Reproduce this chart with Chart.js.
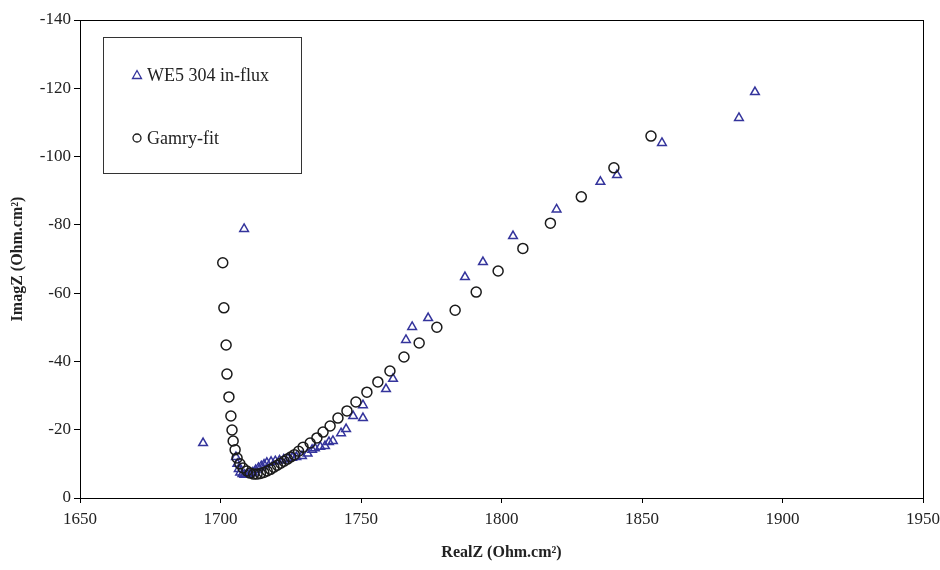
<!DOCTYPE html>
<html>
<head>
<meta charset="utf-8">
<script src="https://cdn.jsdelivr.net/npm/chart.js@4/dist/chart.umd.min.js"></script>
<style>
  html, body { margin: 0; padding: 0; background: #fff; }
  #wrap { width: 940px; height: 570px; position: relative; }
</style>
</head>
<body>
<div id="wrap"><canvas id="nyquist"></canvas></div>
<script>
// measured data (WE5 304 in-flux)
const realMeas = [1693.8, 1708.4, 1705.5, 1706.0, 1706.5, 1707.0, 1707.8, 1708.5, 1709.5, 1710.5,
  1711.5, 1712.5, 1713.5, 1714.5, 1715.5, 1716.5, 1718.0, 1719.5, 1721.0, 1722.5,
  1724.0, 1725.5, 1727.0, 1729.0, 1731.0, 1732.6, 1733.6, 1735.5, 1737.2, 1738.6,
  1740.0, 1742.9, 1744.7, 1747.2, 1750.7, 1750.7, 1758.9, 1761.4, 1766.0, 1768.2,
  1773.9, 1787.0, 1793.4, 1804.1, 1819.6, 1835.2, 1841.1, 1857.1, 1884.5, 1890.2];
const imagMeas = [-16.1, -78.8, -12.0, -10.0, -8.5, -7.5, -7.0, -6.8, -7.0, -7.2,
  -7.5, -8.2, -8.8, -9.3, -9.8, -10.3, -10.6, -10.8, -11.0, -11.3,
  -11.5, -11.8, -12.0, -12.3, -13.0, -14.1, -14.6, -15.0, -15.2, -16.4,
  -16.7, -19.0, -20.2, -24.0, -23.4, -27.2, -31.9, -34.9, -46.3, -50.1,
  -52.7, -64.7, -69.1, -76.7, -84.5, -92.6, -94.6, -104.0, -111.3, -118.9];

// fitted data (Gamry-fit)
const realFit = [1700.8, 1701.2, 1702.0, 1702.3, 1703.0, 1703.7, 1704.1, 1704.5, 1705.2, 1705.9,
  1706.9, 1708.0, 1709.4, 1710.5, 1711.8, 1713.0, 1714.2, 1715.4, 1716.6, 1717.8,
  1719.0, 1720.2, 1721.4, 1722.6, 1723.8, 1725.0, 1726.3, 1727.8, 1729.4, 1731.9,
  1734.3, 1736.5, 1739.0, 1741.8, 1745.0, 1748.2, 1752.1, 1756.0, 1760.3, 1765.3,
  1770.7, 1777.0, 1783.5, 1791.0, 1798.8, 1807.6, 1817.4, 1828.4, 1840.0, 1853.2];
const imagFit = [-68.9, -55.7, -44.8, -36.3, -29.6, -24.0, -19.9, -16.7, -14.1, -11.7,
  -10.0, -8.8, -7.9, -7.3, -7.0, -7.0, -7.2, -7.5, -7.9, -8.4,
  -9.0, -9.6, -10.2, -10.8, -11.4, -12.0, -12.7, -13.7, -14.9, -16.1,
  -17.6, -19.3, -21.1, -23.4, -25.5, -28.1, -31.0, -34.0, -37.2, -41.3,
  -45.4, -50.0, -55.0, -60.3, -66.5, -73.1, -80.5, -88.2, -96.7, -106.0];

const seriesNames = ["WE5 304 in-flux", "Gamry-fit"];

const toPoints = (xs, ys) => xs.map((x, i) => ({ x, y: ys[i] }));

const colors = {
  meas: "#34349c",
  fit: "#1a1a1a",
  axis: "#000",
  text: "#222",
};
const serif = "'Liberation Serif', 'Times New Roman', serif";

// frame around the plot area + boxed legend
const framePlugin = {
  id: "frame",
  afterDatasetsDraw(chart) {
    const { ctx, chartArea: a } = chart;
    ctx.save();
    ctx.strokeStyle = colors.axis;
    ctx.lineWidth = 1;
    ctx.strokeRect(a.left + 0.5, a.top + 0.5, a.right - a.left, a.bottom - a.top);

    // legend box
    ctx.strokeStyle = "#333";
    ctx.strokeRect(103.5, 37.5, 198, 136);
    ctx.font = "18px " + serif;
    ctx.textBaseline = "middle";
    const rows = [
      { y: 75, style: "triangle", color: colors.meas },
      { y: 138, style: "circle", color: colors.fit },
    ];
    rows.forEach((r, i) => {
      ctx.strokeStyle = r.color;
      ctx.lineWidth = 1.3;
      ctx.beginPath();
      if (r.style === "circle") {
        ctx.arc(137, r.y, 4, 0, Math.PI * 2);
      } else {
        ctx.moveTo(137, r.y - 4.5);
        ctx.lineTo(141.5, r.y + 3.5);
        ctx.lineTo(132.5, r.y + 3.5);
        ctx.closePath();
      }
      ctx.stroke();
      ctx.fillStyle = colors.text;
      ctx.fillText(seriesNames[i], 147, r.y + 1);
    });
    ctx.restore();
  },
};

new Chart(document.getElementById("nyquist").getContext("2d"), {
  type: "scatter",
  data: {
    datasets: [
      {
        label: seriesNames[0],
        data: toPoints(realMeas, imagMeas),
        pointStyle: "triangle",
        pointRadius: 5,
        borderColor: colors.meas,
        backgroundColor: "rgba(0,0,0,0)",
        borderWidth: 1.5,
        order: 2,
      },
      {
        label: seriesNames[1],
        data: toPoints(realFit, imagFit),
        pointStyle: "circle",
        pointRadius: 5,
        borderColor: colors.fit,
        backgroundColor: "rgba(0,0,0,0)",
        borderWidth: 1.5,
        order: 1,
      },
    ],
  },
  options: {
    responsive: true,
    maintainAspectRatio: false,
    animation: false,
    layout: { padding: { top: 20, right: 17, left: 0, bottom: 0 } },
    plugins: {
      legend: { display: false },
      tooltip: { enabled: false },
    },
    scales: {
      x: {
        type: "linear",
        min: 1650,
        max: 1950,
        afterFit: s => { s.height = 72; s.paddingRight = 0; s.paddingLeft = 0; },
        ticks: {
          stepSize: 50,
          color: colors.text,
          font: { family: serif, size: 17 },
          padding: 6,
          maxRotation: 0,
          callback: v => String(v),
        },
        grid: { drawOnChartArea: false, tickLength: 5, color: colors.axis },
        border: { color: colors.axis, width: 1 },
        title: {
          display: true,
          text: "RealZ (Ohm.cm²)",
          color: colors.text,
          font: { family: serif, size: 16, weight: "bold" },
          padding: { top: 0, bottom: 8 },
        },
      },
      y: {
        type: "linear",
        min: -140,
        max: 0,
        reverse: true,
        afterFit: s => { s.width = 80; s.paddingTop = 0; s.paddingBottom = 0; },
        ticks: {
          stepSize: 20,
          color: colors.text,
          font: { family: serif, size: 17 },
          padding: 3,
          callback: v => String(v),
        },
        grid: { drawOnChartArea: false, tickLength: 6, color: colors.axis },
        border: { color: colors.axis, width: 1 },
        title: {
          display: true,
          text: "ImagZ (Ohm.cm²)",
          color: colors.text,
          font: { family: serif, size: 16, weight: "bold" },
          padding: { top: 8, bottom: 0 },
        },
      },
    },
  },
  plugins: [framePlugin],
});
</script>
</body>
</html>
